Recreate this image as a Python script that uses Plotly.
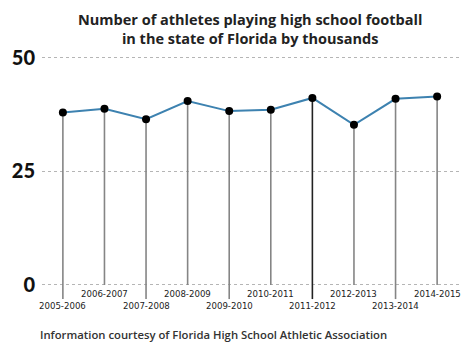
import plotly.graph_objects as go

seasons = ["2005-2006", "2006-2007", "2007-2008", "2008-2009", "2009-2010",
           "2010-2011", "2011-2012", "2012-2013", "2013-2014", "2014-2015"]
athletes_k = [38.0, 38.8, 36.5, 40.5, 38.3, 38.6, 41.2, 35.3, 41.0, 41.5]
y_ticks = [0, 25, 50]

title_text = "Number of athletes playing high school football<br>in the state of Florida by thousands"
source_text = "Information courtesy of Florida High School Athletic Association"

idx = list(range(len(seasons)))
LOW_END = -3.1
LOW_LABEL = -4.6
HIGH_LABEL = -2.0

fig = go.Figure()

# stems
for i, v in zip(idx, athletes_k):
    end = LOW_END if i % 2 == 0 else 0
    color = "#222222" if seasons[i] == "2011-2012" else "#858585"
    fig.add_trace(go.Scatter(x=[i, i], y=[v, end], mode="lines",
                             line=dict(color=color, width=1.6),
                             hoverinfo="skip", showlegend=False))

fig.add_trace(go.Scatter(x=idx, y=athletes_k, mode="lines+markers",
                         line=dict(color="#3d82b0", width=2),
                         marker=dict(color="black", size=8),
                         showlegend=False))

for i, s in zip(idx, seasons):
    fig.add_annotation(x=i, y=LOW_LABEL if i % 2 == 0 else HIGH_LABEL, text=s,
                       showarrow=False, xref="x", yref="y",
                       font=dict(family="DejaVu Sans", size=8.6, color="#222222"))

fig.add_annotation(x=0.4976, xref="paper", y=1.08, yref="paper", yanchor="middle",
                   text=title_text, showarrow=False,
                   font=dict(family="Open Sans", size=14.5, color="#222222", weight=700),
                   align="center")

fig.add_annotation(x=-0.01, xref="paper", xanchor="left", y=-0.084, yref="paper",
                   yanchor="middle", text=source_text,
                   showarrow=False,
                   font=dict(family="Open Sans", size=11.3, color="#333333", weight=600))

fig.update_xaxes(range=[-0.502, 9.55], showgrid=False, zeroline=False,
                 showticklabels=False, showline=False)
fig.update_yaxes(range=[-5.95, 51.76], tickvals=y_ticks,
                 ticktext=[str(t) for t in y_ticks],
                 showgrid=True, gridcolor="#b5b5b5", griddash="dot", gridwidth=1,
                 zeroline=False, showline=False, ticks="",
                 tickfont=dict(family="Lato", size=20, color="#111111", weight=900),
                 ticklabelstandoff=6)

fig.update_layout(width=475, height=352, margin=dict(l=40, r=15, t=50, b=40),
                  plot_bgcolor="white", paper_bgcolor="white")

fig.write_html("out.html")
